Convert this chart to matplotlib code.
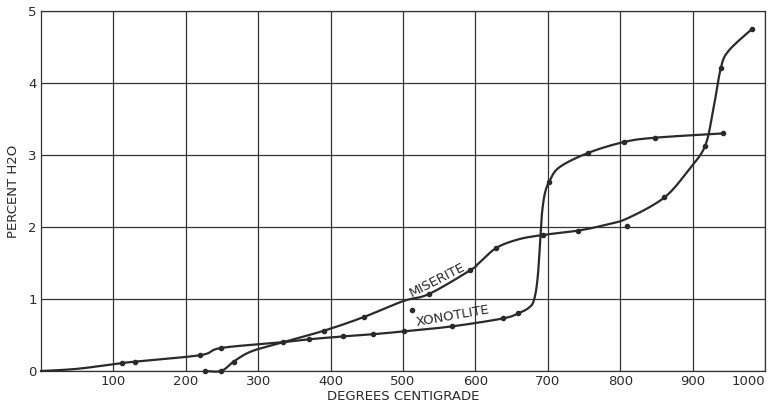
import numpy as np
import matplotlib
matplotlib.use("Agg")
import matplotlib.pyplot as plt

## traced curves (degrees C, percent H2O)
xono_curve_t = [0, 50, 112, 130, 220, 249, 334, 370, 417, 458, 501, 568, 638, 659,
                674, 681, 686, 690, 692, 696, 702, 716, 756, 805, 848, 942]
xono_curve_w = [0, 0.03, 0.11, 0.13, 0.22, 0.32, 0.40, 0.44, 0.48, 0.51, 0.55, 0.62, 0.73, 0.80,
                0.88, 0.99, 1.3, 1.9, 2.2, 2.47, 2.63, 2.83, 3.03, 3.18, 3.24, 3.30]
mis_curve_t = [227, 249, 266, 290, 331, 391, 446, 500, 536, 593, 605, 629, 660, 694,
               742, 780, 810, 861, 895, 917, 928, 939, 950, 982]
mis_curve_w = [0, 0, 0.13, 0.27, 0.39, 0.56, 0.75, 0.97, 1.07, 1.40, 1.50, 1.71, 1.83, 1.89,
               1.95, 2.03, 2.12, 2.41, 2.80, 3.12, 3.60, 4.21, 4.45, 4.75]

## measured points
xono_pts_t = [112, 130, 220, 249, 334, 370, 417, 458, 501, 568, 638, 659, 702, 756, 805, 848, 942]
xono_pts_w = [0.11, 0.13, 0.22, 0.32, 0.40, 0.44, 0.48, 0.51, 0.55, 0.62, 0.73, 0.80, 2.63, 3.03, 3.18, 3.24, 3.30]
mis_pts_t = [227, 249, 266, 391, 446, 536, 593, 629, 694, 742, 861, 917, 939, 982]
mis_pts_w = [0, 0, 0.13, 0.56, 0.75, 1.07, 1.40, 1.71, 1.89, 1.95, 2.41, 3.12, 4.21, 4.75]
stray_t = [512, 810]
stray_w = [0.85, 2.02]

x_ticks = [100, 200, 300, 400, 500, 600, 700, 800, 900, 1000]
x_labels = ["100", "200", "300", "400", "500", "600", "700", "800", "900", "1000"]
y_ticks = [0, 1, 2, 3, 4, 5]


def smooth(xs, ys, n=12):
    # catmull-rom through the traced points, scaled to axis units
    p = np.column_stack([np.array(xs) / 100.0, ys])
    p = np.vstack([p[0], p, p[-1]])
    out = []
    for i in range(1, len(p) - 2):
        p0, p1, p2, p3 = p[i - 1], p[i], p[i + 1], p[i + 2]
        t = np.linspace(0, 1, n, endpoint=False)[:, None]
        seg = 0.5 * ((2 * p1) + (-p0 + p2) * t + (2 * p0 - 5 * p1 + 4 * p2 - p3) * t ** 2
                     + (-p0 + 3 * p1 - 3 * p2 + p3) * t ** 3)
        out.append(seg)
    out.append(p[-2][None, :])
    out = np.vstack(out)
    return out[:, 0] * 100.0, out[:, 1]


ink = "#2a2a2a"
fig = plt.figure(figsize=(7.77, 4.07), dpi=100)
ax = fig.add_axes([0.0528, 0.0885, 0.9318, 0.8845])
ax.set_xlim(0, 1000)
ax.set_ylim(0, 5)

ax.set_xticks(x_ticks)
ax.set_xticklabels(x_labels)
ax.set_yticks(y_ticks)
ax.tick_params(length=0, labelsize=9.5, colors=ink, pad=3)
ax.get_xticklabels()[-1].set_horizontalalignment("right")
ax.grid(True, color="#333333", linewidth=0.9)
for s in ax.spines.values():
    s.set_color("#333333")
    s.set_linewidth(0.9)

cx, cy = smooth(xono_curve_t, xono_curve_w)
ax.plot(cx, cy, color=ink, linewidth=1.6, clip_on=False, zorder=3)
cx, cy = smooth(mis_curve_t, mis_curve_w)
ax.plot(cx, cy, color=ink, linewidth=1.6, clip_on=False, zorder=3)

ax.plot(xono_pts_t, xono_pts_w, "o", color=ink, markersize=3, clip_on=False, zorder=4)
ax.plot(mis_pts_t, mis_pts_w, "o", color=ink, markersize=3, clip_on=False, zorder=4)
ax.plot(stray_t, stray_w, "o", color=ink, markersize=3, zorder=4)

ax.text(548, 1.27, "MISERITE", rotation=27, ha="center", va="center",
        fontsize=9.5, color=ink)
ax.text(568, 0.76, "XONOTLITE", rotation=10, ha="center", va="center",
        fontsize=9.5, color=ink)

ax.set_xlabel("DEGREES CENTIGRADE", fontsize=9.5, color=ink, labelpad=1)
ax.set_ylabel("PERCENT H2O", fontsize=9.5, color=ink, labelpad=6)

fig.savefig("out.png", dpi=100)
